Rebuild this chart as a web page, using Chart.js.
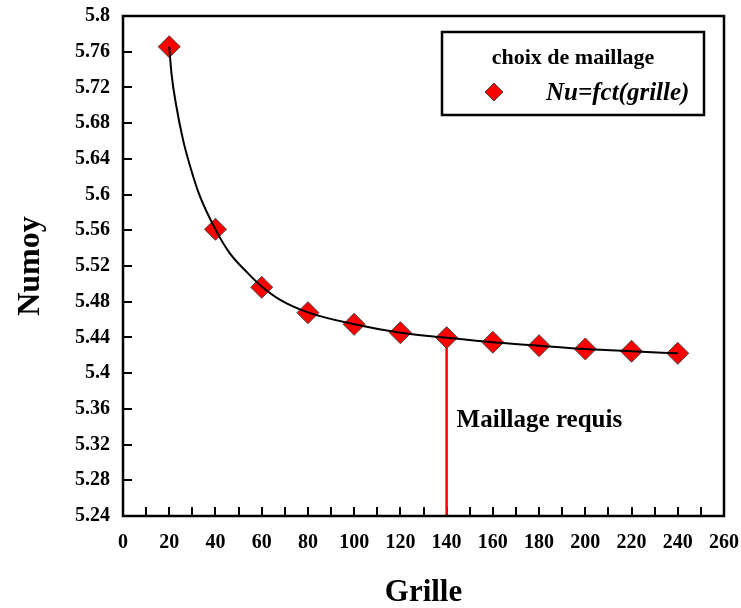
<!DOCTYPE html>
<html>
<head>
<meta charset="utf-8">
<script src="https://cdn.jsdelivr.net/npm/chart.js@4/dist/chart.umd.min.js"></script>
<style>
  html, body { margin: 0; padding: 0; background: #fff; }
  #wrap { width: 741px; height: 608px; position: relative; }
</style>
</head>
<body>
<div id="wrap"><canvas id="c" width="741" height="608"></canvas></div>
<script>
// ---- data ----
const grille = [20, 40, 60, 80, 100, 120, 140, 160, 180, 200, 220, 240];
const numoy  = [5.7656, 5.5611, 5.4962, 5.4677, 5.4547, 5.4453, 5.4397, 5.4346, 5.4308, 5.4271, 5.4245, 5.4222];
// fitted trend curve
const curveX = [20, 21, 23, 26, 29, 33, 40, 46, 54, 60, 68, 80, 100, 120, 140, 160, 180, 200, 220, 240];
const curveY = [5.7656, 5.735, 5.700, 5.661, 5.632, 5.600, 5.561, 5.535, 5.512, 5.497, 5.482, 5.468, 5.4547, 5.4453, 5.4397, 5.4346, 5.4308, 5.4271, 5.4245, 5.4222];
const xTicks = [0, 10, 20, 30, 40, 50, 60, 70, 80, 90, 100, 110, 120, 130, 140, 150, 160, 170, 180, 190, 200, 210, 220, 230, 240, 250, 260];
const xTickLabels = ['0','','20','','40','','60','','80','','100','','120','','140','','160','','180','','200','','220','','240','','260'];
const yTicks = [5.24, 5.28, 5.32, 5.36, 5.4, 5.44, 5.48, 5.52, 5.56, 5.6, 5.64, 5.68, 5.72, 5.76, 5.8];
const yTickLabels = ['5.24','5.28','5.32','5.36','5.4','5.44','5.48','5.52','5.56','5.6','5.64','5.68','5.72','5.76','5.8'];
const requiredGrid = 140;
const seriesName = 'Nu=fct(grille)';
const legendTitle = 'choix de maillage';
const annotationText = 'Maillage requis';

const points = grille.map((g, i) => ({ x: g, y: numoy[i] }));
const curve = curveX.map((g, i) => ({ x: g, y: curveY[i] }));
const reqIdx = grille.indexOf(requiredGrid);
const yMin = yTicks[0], yMax = yTicks[yTicks.length - 1];

const SERIF = '"Liberation Serif", "Times New Roman", serif';

const decorPlugin = {
  id: 'decor',
  beforeDatasetsDraw(chart) {
    const ctx = chart.ctx;
    const xs = chart.scales.x, ys = chart.scales.y;
    const a = chart.chartArea;
    ctx.save();
    ctx.strokeStyle = '#000';
    ctx.lineWidth = 2;
    xTicks.forEach(v => {
      const px = Math.round(xs.getPixelForValue(v));
      ctx.beginPath();
      ctx.moveTo(px, a.bottom);
      ctx.lineTo(px, a.bottom - 9);
      ctx.stroke();
    });
    yTicks.forEach(v => {
      const py = Math.round(ys.getPixelForValue(v));
      ctx.beginPath();
      ctx.moveTo(a.left, py);
      ctx.lineTo(a.left + 9, py);
      ctx.stroke();
    });
    ctx.restore();
  },
  afterDraw(chart) {
    const ctx = chart.ctx;
    const xs = chart.scales.x, ys = chart.scales.y;
    const a = chart.chartArea;
    ctx.save();
    ctx.strokeStyle = '#000';
    ctx.lineWidth = 2.5;
    ctx.strokeRect(a.left, a.top, a.right - a.left, a.bottom - a.top);
    // annotation text
    ctx.fillStyle = '#000';
    ctx.font = 'bold 25px ' + SERIF;
    ctx.textBaseline = 'alphabetic';
    ctx.textAlign = 'left';
    ctx.fillText(annotationText, xs.getPixelForValue(requiredGrid) + 10, ys.getPixelForValue(5.34));
    // legend box
    const bx = 442, by = 32, bw = 262, bh = 83;
    ctx.fillStyle = '#fff';
    ctx.fillRect(bx, by, bw, bh);
    ctx.lineWidth = 2.5;
    ctx.strokeStyle = '#000';
    ctx.strokeRect(bx, by, bw, bh);
    ctx.fillStyle = '#000';
    ctx.font = 'bold 22px ' + SERIF;
    ctx.textAlign = 'center';
    ctx.fillText(legendTitle, bx + bw / 2, by + 32);
    const mx = 494, my = 92, r = 9;
    ctx.beginPath();
    ctx.moveTo(mx - r, my); ctx.lineTo(mx, my - r); ctx.lineTo(mx + r, my); ctx.lineTo(mx, my + r); ctx.closePath();
    ctx.fillStyle = '#ff0000';
    ctx.fill();
    ctx.lineWidth = 1;
    ctx.strokeStyle = '#444';
    ctx.stroke();
    ctx.fillStyle = '#000';
    ctx.font = 'italic bold 25px ' + SERIF;
    ctx.textAlign = 'left';
    ctx.fillText(seriesName, 546, 100);
    ctx.restore();
  }
};

new Chart(document.getElementById('c'), {
  type: 'scatter',
  data: {
    datasets: [
      {
        label: seriesName + ' (fit)',
        data: curve,
        showLine: true,
        borderColor: '#000',
        borderWidth: 2,
        pointRadius: 0,
        cubicInterpolationMode: 'monotone',
        fill: false,
        order: 0
      },
      {
        label: seriesName,
        data: points,
        showLine: false,
        pointStyle: 'rectRot',
        pointRadius: 11,
        pointBackgroundColor: '#ff0000',
        pointBorderColor: '#444',
        pointBorderWidth: 1,
        order: 1
      },
      {
        label: annotationText,
        data: [{ x: requiredGrid, y: numoy[reqIdx] }, { x: requiredGrid, y: yMin }],
        showLine: true,
        borderColor: '#ff0000',
        borderWidth: 2.5,
        pointRadius: 0,
        order: 2
      }
    ]
  },
  plugins: [decorPlugin],
  options: {
    responsive: false,
    animation: false,
    devicePixelRatio: 1,
    layout: { padding: { top: 16, right: 17, left: 0, bottom: 0 } },
    plugins: { legend: { display: false }, tooltip: { enabled: false } },
    scales: {
      x: {
        type: 'linear',
        min: xTicks[0], max: xTicks[xTicks.length - 1],
        afterBuildTicks: s => { s.ticks = xTicks.map(v => ({ value: v })); },
        afterFit: s => { s.height = 92; s.paddingLeft = 0; s.paddingRight = 0; },
        grid: { display: false, drawTicks: false },
        border: { display: false },
        ticks: {
          autoSkip: false, maxRotation: 0, padding: 15,
          color: '#000',
          font: { family: SERIF, size: 20, weight: 'bold' },
          callback: (v) => xTickLabels[xTicks.indexOf(v)] ?? ''
        },
        title: {
          display: true, text: 'Grille', color: '#000',
          font: { family: SERIF, size: 31, weight: 'bold', lineHeight: 1.0 },
          padding: { top: 0, bottom: 0 }
        }
      },
      y: {
        type: 'linear',
        min: yMin, max: yMax,
        afterBuildTicks: s => { s.ticks = yTicks.map(v => ({ value: v })); },
        afterFit: s => { s.width = 123; s.paddingTop = 0; s.paddingBottom = 0; },
        grid: { display: false, drawTicks: false },
        border: { display: false },
        ticks: {
          padding: 13,
          color: '#000',
          font: { family: SERIF, size: 20, weight: 'bold' },
          callback: (v) => yTickLabels[yTicks.findIndex(t => Math.abs(t - v) < 1e-9)] ?? ''
        },
        title: {
          display: true, text: 'Numoy', color: '#000',
          font: { family: SERIF, size: 32, weight: 'bold' },
          padding: { top: 12, bottom: 0 }
        }
      }
    }
  }
});
</script>
</body>
</html>
